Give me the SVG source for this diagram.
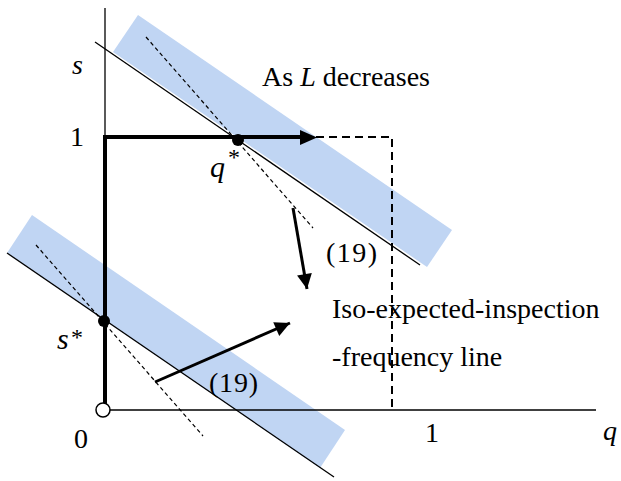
<svg xmlns="http://www.w3.org/2000/svg" width="621" height="481" viewBox="0 0 621 481">
<style>
text{font-family:"Liberation Serif","Times New Roman",serif;font-size:28px;fill:#000}
.it{font-style:italic}
.ast{font-size:24px}
.band{fill:#c0d5f3;stroke:none}
.thin{stroke:#000;stroke-width:1.3;fill:none}
.tan{stroke:#000;stroke-width:1.2;stroke-dasharray:4 3;fill:none}
.box{stroke:#000;stroke-width:2;stroke-dasharray:8 5;fill:none}
.thick{stroke:#000;stroke-width:4;fill:none}
.arr{stroke:#000;stroke-width:3;fill:none}
</style>
<defs>
<marker id="ah" viewBox="0 0 10 10" refX="10" refY="5" markerWidth="5.5" markerHeight="5" markerUnits="strokeWidth" orient="auto">
<path d="M0,0 L10,5 L0,10 Z" fill="#000"/>
</marker>
</defs>
<g id="bands">
<polygon class="band" points="138,15 452,230 427,267 113,52"/>
<polygon class="band" points="32,215 345,430 320,468 7,253"/>
</g>
<g id="axes">
<line class="thin" x1="105" y1="8" x2="105" y2="410"/>
<line class="thin" x1="103" y1="410" x2="596" y2="410"/>
</g>
<g id="connectors">
<line class="thin" x1="95" y1="42" x2="420" y2="265"/>
<line class="thin" x1="7" y1="253" x2="334" y2="477"/>
<line class="tan" x1="146" y1="37" x2="313" y2="228"/>
<line class="tan" x1="36" y1="245" x2="203" y2="436"/>
<polyline class="box" points="316,137 392,137 392,410"/>
<polyline class="thick" points="105,410 105,137 300,137"/>
<path d="M300,130 L317,137.5 L300,145 Z" fill="#000"/>
<line class="arr" x1="293" y1="208" x2="307" y2="289" marker-end="url(#ah)"/>
<line class="arr" x1="155" y1="382" x2="290" y2="323" marker-end="url(#ah)"/>
</g>
<g id="points">
<circle cx="238" cy="140" r="6" fill="#000"/>
<circle cx="104" cy="321" r="6" fill="#000"/>
<circle cx="103" cy="410" r="7" fill="#fff" stroke="#000" stroke-width="1.5"/>
</g>
<g id="labels">
<text class="it" x="72" y="74">s</text>
<text x="77" y="146" text-anchor="middle">1</text>
<text x="262" y="86">As <tspan class="it">L</tspan> decreases</text>
<text class="it" x="210" y="177" style="font-size:30px">q</text>
<text class="ast" x="228" y="165">*</text>
<text class="it" x="57" y="349" style="font-size:30px">s</text>
<text class="ast" x="71" y="345">*</text>
<text x="326" y="262" textLength="51">(19)</text>
<text x="209" y="392" textLength="49">(19)</text>
<text x="332" y="318">Iso-expected-inspection</text>
<text x="332" y="366">-frequency line</text>
<text x="81" y="448" text-anchor="middle">0</text>
<text x="432" y="442" text-anchor="middle">1</text>
<text class="it" x="603" y="440">q</text>
</g>
</svg>
